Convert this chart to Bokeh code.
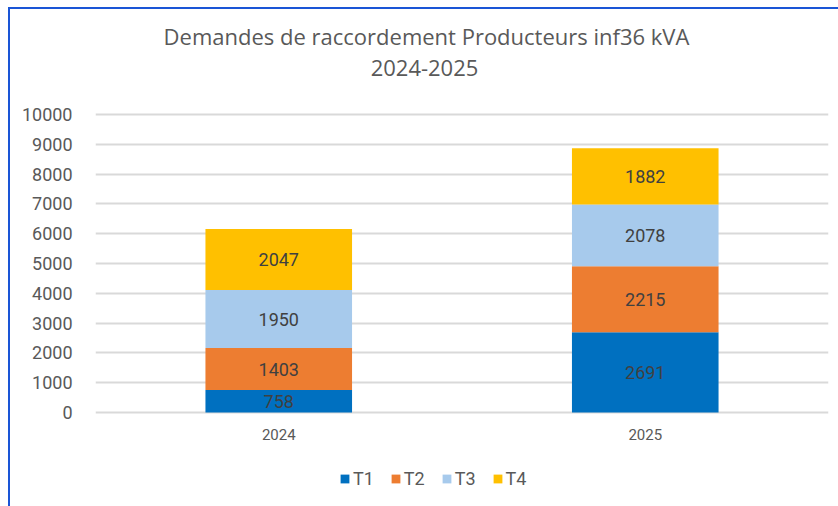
from bokeh.plotting import figure
from bokeh.models import ColumnDataSource, Label, Legend, LegendItem, FactorRange
from bokeh.embed import file_html
from bokeh.resources import INLINE
from bokeh.core.properties import value
import numpy as np

years = ["2024", "2025"]
series = ["T1", "T2", "T3", "T4"]
t1 = [758, 2691]
t2 = [1403, 2215]
t3 = [1950, 2078]
t4 = [2047, 1882]
colors = ["#0070C0", "#ED7D31", "#A7CAEC", "#FFC000"]
y_ticks = [0, 1000, 2000, 3000, 4000, 5000, 6000, 7000, 8000, 9000, 10000]
title_lines = ["Demandes de raccordement Producteurs inf36 kVA", "2024-2025"]

FONT = "Roboto"
TFONT = "Open Sans"
data = {"year": years, "T1": t1, "T2": t2, "T3": t3, "T4": t4}
src = ColumnDataSource(data)

# layout geometry (pixels)
FRAME_H = 485
PX_PER_UNIT = 298 / 10000
TOP_PAD = 105      # px between frame top and the 10000 gridline
BOT_PAD = 82       # px between the 0 gridline and frame bottom

p = figure(x_range=FactorRange(*years),
           y_range=(-BOT_PAD / PX_PER_UNIT, 10000 + TOP_PAD / PX_PER_UNIT),
           frame_width=733, frame_height=FRAME_H,
           output_backend="svg", toolbar_location=None,
           min_border_left=85, min_border_right=10, min_border_bottom=12, min_border_top=0)
p.outline_line_color = None
p.margin = (7, 0, 0, 8)
p.styles = {"border-left": "2px solid #1A55D6", "border-top": "2px solid #1A55D6"}

renderers = p.vbar_stack(series, x="year", width=0.4, color=colors, source=src, line_color=None)

cum = np.zeros(len(years))
for s in series:
    vals = np.array(data[s], dtype=float)
    mid = cum + vals / 2
    cum = cum + vals
    lsrc = ColumnDataSource(dict(x=years, y=list(mid), t=[str(v) for v in data[s]]))
    p.text(x="x", y="y", text="t", source=lsrc, text_align="center", text_baseline="middle",
           text_font=value(FONT), text_font_size="18px", text_color="#404040")

for txt, yy, xx in zip(title_lines, [459, 427], [331, 329]):
    p.add_layout(Label(x=xx, y=yy, x_units="screen", y_units="screen", text=txt,
                       text_align="center", text_baseline="middle", text_font=TFONT,
                       text_font_size="22px", text_color="#595959"))

p.yaxis.ticker = y_ticks
p.yaxis.axis_line_color = None
p.yaxis.major_tick_line_color = None
p.yaxis.minor_tick_line_color = None
p.yaxis.major_label_text_font = FONT
p.yaxis.major_label_text_font_size = "18px"
p.yaxis.major_label_text_color = "#595959"
p.yaxis.major_label_standoff = 17

p.xaxis.fixed_location = -20 / PX_PER_UNIT
p.xaxis.axis_line_color = None
p.xaxis.major_tick_line_color = None
p.xaxis.major_label_text_font = FONT
p.xaxis.major_label_text_font_size = "15px"
p.xaxis.major_label_text_color = "#595959"
p.xaxis.major_label_standoff = -10

p.xgrid.grid_line_color = None
p.ygrid.grid_line_color = "#D9D9D9"
p.ygrid.grid_line_width = 2
p.x_range.range_padding = 0
p.x_range.group_padding = 0

legend = Legend(items=[LegendItem(label=s, renderers=[r]) for s, r in zip(series, renderers)],
                orientation="horizontal", location=(244, 5))
legend.label_text_font = FONT
legend.label_text_font_size = "18px"
legend.label_text_color = "#595959"
legend.glyph_width = 11
legend.glyph_height = 11
legend.spacing = 16
legend.label_standoff = 3
legend.padding = 0
legend.margin = 0
legend.border_line_color = None
legend.background_fill_alpha = 0
p.add_layout(legend)

open("out.html", "w").write(file_html(p, INLINE))
